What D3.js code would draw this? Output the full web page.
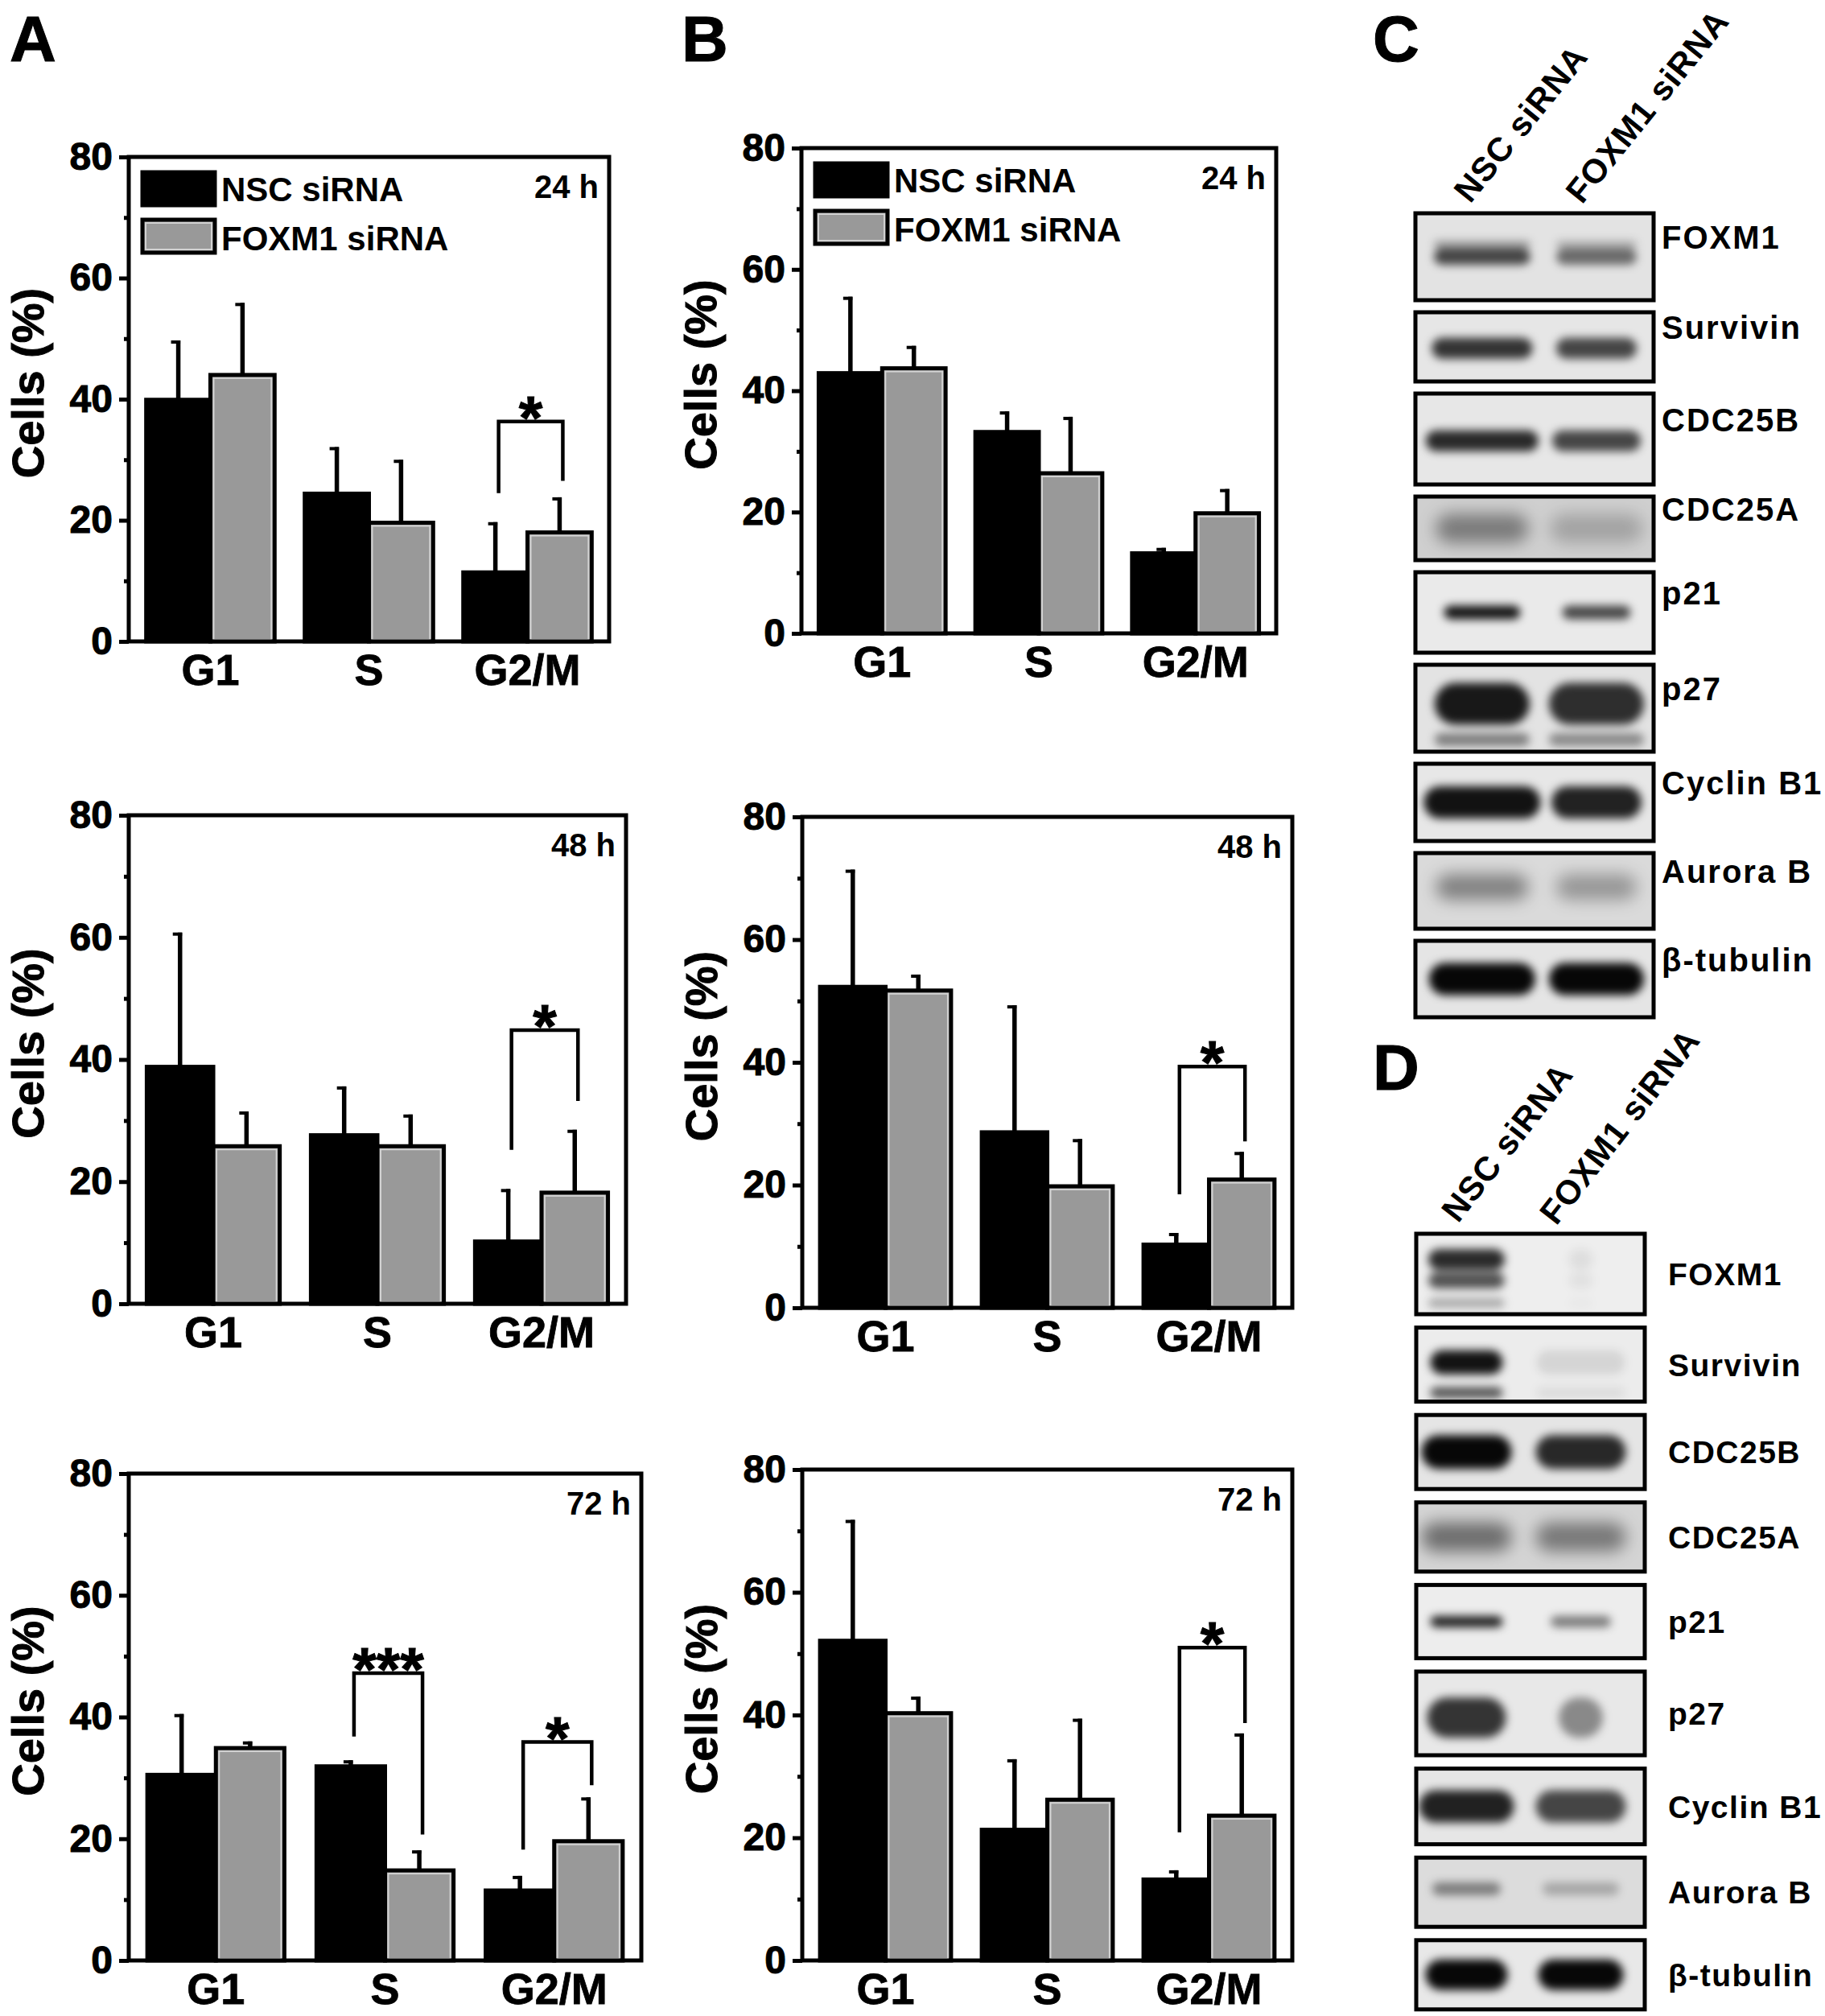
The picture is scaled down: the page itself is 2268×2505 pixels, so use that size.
<!DOCTYPE html>
<html>
<head>
<meta charset="utf-8">
<script src="https://cdn.jsdelivr.net/npm/d3@7"></script>
<style>
  body { margin: 0; background: #fff; }
  svg text { font-family: "Liberation Sans", Arial, sans-serif; font-weight: bold; }
</style>
</head>
<body>
<svg id="fig" width="2268" height="2505"></svg>
<script>
var phases = ["G1", "S", "G2/M"]
var treatments = ["NSC siRNA", "FOXM1 siRNA"]
var yTicks = [0, 20, 40, 60, 80]
var yMinor = [10, 30, 50, 70]

// panel A, mean and upper SD (% cells)
var a24Nsc = [39.9, 24.4, 11.4], a24NscSd = [9.8, 7.7, 8.3]
var a24Fox = [44.0, 19.6, 18.0], a24FoxSd = [11.9, 10.4, 5.8]
var a48Nsc = [38.8, 27.6, 10.2], a48NscSd = [22.0, 8.0, 8.6]
var a48Fox = [25.8, 25.8, 18.2], a48FoxSd = [5.7, 5.2, 10.3]
var a72Nsc = [30.5, 31.9, 11.5], a72NscSd = [10.0, 1.0, 2.4]
var a72Fox = [34.9, 14.8, 19.6], a72FoxSd = [1.1, 3.3, 7.2]
// panel B
var b24Nsc = [42.9, 33.2, 13.2], b24NscSd = [12.6, 3.4, 0.9]
var b24Fox = [43.7, 26.4, 19.8], b24FoxSd = [3.7, 9.3, 4.0]
var b48Nsc = [52.3, 28.6, 10.3], b48NscSd = [19.1, 20.7, 1.9]
var b48Fox = [51.7, 19.8, 20.9], b48FoxSd = [2.6, 7.7, 4.5]
var b72Nsc = [52.1, 21.3, 13.2], b72NscSd = [19.7, 11.5, 1.5]
var b72Fox = [40.3, 26.2, 23.6], b72FoxSd = [2.7, 13.2, 13.4]

// significance brackets: bracket top and the two feet, in % units
var sigs = [
  {chart: "a24", phase: "G2/M", top: 36.3, left: 24.5, right: 26.5, mark: "*"},
  {chart: "a48", phase: "G2/M", top: 44.8, left: 25.2, right: 33.2, mark: "*"},
  {chart: "a72", phase: "S", top: 47.2, left: 36.8, right: 20.7, mark: "***"},
  {chart: "a72", phase: "G2/M", top: 35.9, left: 18.2, right: 28.8, mark: "*"},
  {chart: "b48", phase: "G2/M", top: 39.3, left: 18.5, right: 27.1, mark: "*"},
  {chart: "b72", phase: "G2/M", top: 51.0, left: 20.9, right: 38.7, mark: "*"}
]

// western blots: band darkness [NSC lane, FOXM1 lane]
var proteins = ["FOXM1", "Survivin", "CDC25B", "CDC25A", "p21", "p27", "Cyclin B1", "Aurora B", "β-tubulin"]
var blotC = [[0.72, 0.55], [0.8, 0.72], [0.85, 0.72], [0.42, 0.22], [0.95, 0.72], [0.92, 0.82], [0.95, 0.88], [0.42, 0.32], [1, 1]]
var blotD = [[0.85, 0.07], [0.95, 0.1], [1, 0.85], [0.5, 0.45], [0.9, 0.5], [0.8, 0.42], [0.88, 0.72], [0.45, 0.25], [1, 1]]

var FONT = '"Liberation Sans", Arial, sans-serif'
var svg = d3.select("#fig")

var charts = [
  {id: "a24", box: [160, 195, 757, 797], nsc: a24Nsc, nscSd: a24NscSd, fox: a24Fox, foxSd: a24FoxSd, time: "24 h", legend: true},
  {id: "a48", box: [160, 1013, 778, 1620], nsc: a48Nsc, nscSd: a48NscSd, fox: a48Fox, foxSd: a48FoxSd, time: "48 h"},
  {id: "a72", box: [160, 1831, 797, 2436], nsc: a72Nsc, nscSd: a72NscSd, fox: a72Fox, foxSd: a72FoxSd, time: "72 h"},
  {id: "b24", box: [996, 184, 1586, 787], nsc: b24Nsc, nscSd: b24NscSd, fox: b24Fox, foxSd: b24FoxSd, time: "24 h", legend: true},
  {id: "b48", box: [997, 1015, 1606, 1625], nsc: b48Nsc, nscSd: b48NscSd, fox: b48Fox, foxSd: b48FoxSd, time: "48 h"},
  {id: "b72", box: [997, 1826, 1606, 2436], nsc: b72Nsc, nscSd: b72NscSd, fox: b72Fox, foxSd: b72FoxSd, time: "72 h"}
]

function drawChart(c) {
  var L = c.box[0], T = c.box[1], R = c.box[2], B = c.box[3]
  var x = d3.scaleBand().domain(phases).range([L, R]).paddingInner(0.19).paddingOuter(0.11)
  var xSub = d3.scaleBand().domain(treatments).range([0, x.bandwidth()])
  var y = d3.scaleLinear().domain([0, 80]).range([B, T])
  var g = svg.append("g").attr("id", c.id)

  var cells = []
  phases.forEach(function(p, i) {
    cells.push({phase: p, t: treatments[0], v: c.nsc[i], sd: c.nscSd[i]})
    cells.push({phase: p, t: treatments[1], v: c.fox[i], sd: c.foxSd[i]})
  })
  var cx = d => x(d.phase) + xSub(d.t) + xSub.bandwidth() / 2

  // upper error bars, drawn under the bars
  g.selectAll(".err").data(cells).enter().append("line")
    .attr("class", "err")
    .attr("x1", cx).attr("x2", cx)
    .attr("y1", d => y(d.v)).attr("y2", d => y(d.v + d.sd))
    .attr("stroke", "#000").attr("stroke-width", 5.5)
  g.selectAll(".cap").data(cells).enter().append("line")
    .attr("class", "cap")
    .attr("x1", d => cx(d) - 9).attr("x2", d => cx(d) + 2.5)
    .attr("y1", d => y(d.v + d.sd) + 2).attr("y2", d => y(d.v + d.sd) + 2)
    .attr("stroke", "#000").attr("stroke-width", 4)

  g.selectAll(".bar").data(cells).enter().append("rect")
    .attr("class", "bar")
    .attr("x", d => x(d.phase) + xSub(d.t)).attr("width", xSub.bandwidth())
    .attr("y", d => y(d.v)).attr("height", d => y(0) - y(d.v))
    .attr("fill", d => d.t == treatments[0] ? "#000" : "#999")
    .attr("stroke", "#000").attr("stroke-width", 5)
  g.selectAll(".hl").data(cells.filter(d => d.t == treatments[1])).enter().append("rect")
    .attr("class", "hl")
    .attr("x", d => x(d.phase) + xSub(d.t) + 4).attr("width", xSub.bandwidth() - 8)
    .attr("y", d => y(d.v) + 4).attr("height", d => Math.max(0, y(0) - y(d.v) - 6))
    .attr("fill", "none").attr("stroke", "#d2d2d2").attr("stroke-width", 2)

  g.append("rect")
    .attr("x", L).attr("y", T).attr("width", R - L).attr("height", B - T)
    .attr("fill", "none").attr("stroke", "#000").attr("stroke-width", 5)

  var ya = g.append("g").attr("transform", "translate(" + L + ",0)")
    .call(d3.axisLeft(y).tickValues(yTicks).tickSize(12).tickPadding(8))
  ya.append("g").call(d3.axisLeft(y).tickValues(yMinor).tickSize(6).tickFormat(""))
  ya.selectAll(".domain").remove()
  ya.selectAll("line").attr("stroke", "#000").attr("stroke-width", 5)
  ya.attr("font-size", 48).attr("font-family", FONT)
  ya.selectAll("text").attr("fill", "#000").attr("stroke", "#000").attr("stroke-width", 1)

  var xa = g.append("g").attr("transform", "translate(0," + B + ")")
    .call(d3.axisBottom(x).tickSize(0).tickPadding(16))
  xa.select(".domain").remove()
  xa.attr("font-size", 54).attr("font-family", FONT)
  xa.selectAll("text").attr("fill", "#000").attr("stroke", "#000").attr("stroke-width", 0.8)

  g.append("text")
    .attr("transform", "translate(" + (L - 106) + "," + ((T + B) / 2 - 20) + ") rotate(-90)")
    .attr("text-anchor", "middle").attr("font-size", 56)
    .attr("stroke", "#000").attr("stroke-width", 1)
    .text("Cells (%)")

  g.append("text").attr("x", R - 13).attr("y", T + 51)
    .attr("text-anchor", "end").attr("font-size", 40).text(c.time)

  if (c.legend) {
    var lg = g.append("g")
    lg.append("rect").attr("x", L + 16).attr("y", T + 18).attr("width", 92).attr("height", 43)
      .attr("fill", "#000").attr("stroke", "#000").attr("stroke-width", 3)
    lg.append("rect").attr("x", L + 17).attr("y", T + 78).attr("width", 90).attr("height", 41)
      .attr("fill", "#999").attr("stroke", "#000").attr("stroke-width", 5)
    lg.append("rect").attr("x", L + 21).attr("y", T + 82).attr("width", 82).attr("height", 33)
      .attr("fill", "none").attr("stroke", "#d2d2d2").attr("stroke-width", 2)
    lg.selectAll("text").data(treatments).enter().append("text")
      .attr("x", L + 115).attr("y", (d, i) => T + 55 + i * 61)
      .attr("font-size", 42).text(d => d)
  }

  sigs.filter(s => s.chart == c.id).forEach(function(s) {
    var xl = x(s.phase) + xSub(treatments[0]) + xSub.bandwidth() / 2 + 4
    var xr = x(s.phase) + xSub(treatments[1]) + xSub.bandwidth() / 2 + 4
    g.append("path")
      .attr("d", "M" + xl + "," + y(s.left) + "V" + y(s.top) + "H" + xr + "V" + y(s.right))
      .attr("fill", "none").attr("stroke", "#000").attr("stroke-width", 4.5)
    g.append("text").attr("x", (xl + xr) / 2).attr("y", y(s.top) + 21)
      .attr("text-anchor", "middle").attr("font-size", 76)
      .attr("stroke", "#000").attr("stroke-width", 1).text(s.mark)
  })
}

charts.forEach(drawChart)

// panel letters
var letters = [["A", 12, 76], ["B", 847, 76], ["C", 1706, 76], ["D", 1706, 1354]]
svg.selectAll(".plabel").data(letters).enter().append("text")
  .attr("x", d => d[1]).attr("y", d => d[2]).attr("font-size", 80)
  .attr("stroke", "#000").attr("stroke-width", 1).text(d => d[0])

// blot scans
var defs = svg.append("defs")
defs.append("filter").attr("id", "soft").attr("x", "-30%").attr("y", "-100%").attr("width", "160%").attr("height", "300%")
  .append("feGaussianBlur").attr("stdDeviation", 5.5)
defs.append("filter").attr("id", "diffuse").attr("x", "-30%").attr("y", "-100%").attr("width", "160%").attr("height", "300%")
  .append("feGaussianBlur").attr("stdDeviation", 10)

// band shape per row: y centre (fraction), thickness, widths per lane, blur, extra bands
var bandsC = [
  {cy: 0.5, th: 20, w: [120, 100], f: "soft", extra: [{cy: 0.36, th: 10, k: 0.45}]},
  {cy: 0.52, th: 26, w: [125, 100], f: "soft"},
  {cy: 0.52, th: 26, w: [140, 110], f: "soft"},
  {cy: 0.5, th: 36, w: [115, 115], f: "diffuse"},
  {cy: 0.5, th: 17, w: [95, 85], f: "soft"},
  {cy: 0.45, th: 52, w: [118, 118], f: "soft", extra: [{cy: 0.86, th: 16, k: 0.5}]},
  {cy: 0.5, th: 40, w: [145, 112], f: "soft"},
  {cy: 0.45, th: 32, w: [115, 100], f: "diffuse"},
  {cy: 0.5, th: 40, w: [132, 118], f: "soft"}
]
var bandsD = [
  {cy: 0.32, th: 26, w: [95, 30], f: "soft", extra: [{cy: 0.58, th: 20, k: 0.8}, {cy: 0.86, th: 12, k: 0.35}]},
  {cy: 0.47, th: 30, w: [90, 110], f: "soft", extra: [{cy: 0.88, th: 14, k: 0.7}]},
  {cy: 0.5, th: 42, w: [112, 112], f: "soft"},
  {cy: 0.5, th: 36, w: [112, 112], f: "diffuse"},
  {cy: 0.5, th: 14, w: [90, 75], f: "soft"},
  {cy: 0.55, th: 50, w: [98, 55], f: "soft"},
  {cy: 0.5, th: 40, w: [118, 112], f: "soft"},
  {cy: 0.45, th: 16, w: [85, 95], f: "soft"},
  {cy: 0.5, th: 38, w: [102, 106], f: "soft"}
]
var bgC = ["#e3e3e3", "#e6e6e6", "#e7e7e7", "#cfcfcf", "#eaeaea", "#e3e3e3", "#e7e7e7", "#dadada", "#e5e5e5"]
var bgD = ["#eeeeee", "#ececec", "#e5e5e5", "#d4d4d4", "#ededed", "#e8e8e8", "#e6e6e6", "#dcdcdc", "#e8e8e8"]

var blots = [
  {id: "C", x0: 1759, x1: 2055, top: 265, gap: 15, heights: [108, 86, 113, 79, 100, 108, 96, 94, 95],
   lanes: [0.28, 0.76], data: blotC, bands: bandsC, bg: bgC, labelX: 2065, labelDy: -10, fs: 40, ls: 2,
   laneText: [[1827, 254], [1966, 255]], angle: -51},
  {id: "D", x0: 1760, x1: 2044, top: 1533, gap: 16.6, heights: [100, 92, 92, 86, 91, 104, 94, 86, 86],
   lanes: [0.22, 0.72], data: blotD, bands: bandsD, bg: bgD, labelX: 2073, labelDy: 14, fs: 39, ls: 1.5,
   laneText: [[1812, 1521], [1934, 1524]], angle: -52}
]

function drawBlot(b) {
  var g = svg.append("g").attr("id", "blot" + b.id)
  var tops = [], t = b.top
  b.heights.forEach(function(h) { tops.push(t); t += h + b.gap })
  var lx = d3.scaleLinear().domain([0, 1]).range([b.x0, b.x1])
  var shade = d3.scaleLinear().domain([0, 1]).range([0, 0.97])

  proteins.forEach(function(p, i) {
    var top = tops[i], h = b.heights[i], st = b.bands[i]
    var clipId = "clip" + b.id + i
    defs.append("clipPath").attr("id", clipId)
      .append("rect").attr("x", b.x0).attr("y", top).attr("width", b.x1 - b.x0).attr("height", h)
    var row = g.append("g")
    row.append("rect").attr("x", b.x0).attr("y", top).attr("width", b.x1 - b.x0).attr("height", h)
      .attr("fill", b.bg[i])
    var inner = row.append("g").attr("clip-path", "url(#" + clipId + ")")
      .append("g").attr("filter", "url(#" + st.f + ")")
    var layers = [{cy: st.cy, th: st.th, k: 1}].concat(st.extra || [])
    b.data[i].forEach(function(v, lane) {
      var w = st.w[lane], cx = lx(b.lanes[lane])
      inner.selectAll(null).data(layers).enter().append("rect")
        .attr("x", cx - w / 2).attr("width", w)
        .attr("y", d => top + d.cy * h - d.th / 2).attr("height", d => d.th)
        .attr("rx", d => d.th / 2)
        .attr("fill", "#000").attr("fill-opacity", d => shade(v * d.k))
    })
    row.append("rect").attr("x", b.x0).attr("y", top).attr("width", b.x1 - b.x0).attr("height", h)
      .attr("fill", "none").attr("stroke", "#000").attr("stroke-width", 5)
    row.append("text").attr("x", b.labelX).attr("y", top + h / 2 + b.labelDy)
      .attr("font-size", b.fs).attr("letter-spacing", b.ls).text(p)
  })

  g.selectAll(".lane").data(treatments).enter().append("text")
    .attr("transform", (d, i) => "translate(" + b.laneText[i][0] + "," + b.laneText[i][1] + ") rotate(" + b.angle + ")")
    .attr("font-size", 42).attr("letter-spacing", 1).text(d => d)
}

blots.forEach(drawBlot)
</script>
</body>
</html>
